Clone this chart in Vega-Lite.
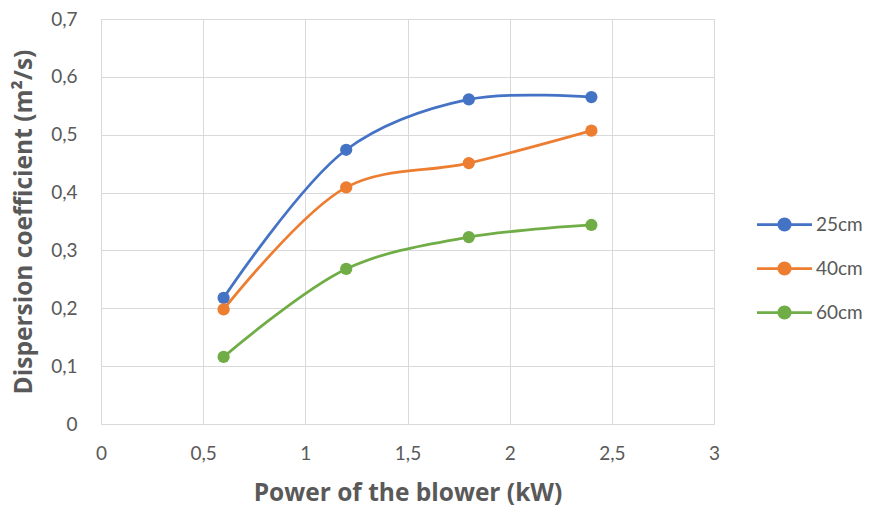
{
  "$schema": "https://vega.github.io/schema/vega-lite/v6.json",
  "autosize": {"type": "none"},
  "padding": {"left": 101, "top": 19, "right": 156, "bottom": 91},
  "width": 613,
  "height": 405,
  "background": "white",
  "config": {
    "locale": {"number": {"decimal": ",", "thousands": ".", "grouping": [3], "currency": ["", " €"]}},
    "font": "Lato",
    "view": {"stroke": "#d9d9d9", "strokeWidth": 1},
    "axis": {
      "grid": true,
      "gridColor": "#d9d9d9",
      "gridWidth": 1,
      "domain": false,
      "ticks": false,
      "tickSize": 0,
      "labelFlush": false,
      "labelFont": "Lato",
      "labelFontSize": 19,
      "labelColor": "#595959",
      "titleFont": "Open Sans",
      "titleFontSize": 24.5,
      "titleFontWeight": "bold",
      "titleColor": "#595959"
    }
  },
  "data": {
    "values": [
      {"series": "25cm", "power": 0.6, "coef": 0.218},
      {"series": "25cm", "power": 1.2, "coef": 0.474},
      {"series": "25cm", "power": 1.8, "coef": 0.561},
      {"series": "25cm", "power": 2.4, "coef": 0.565},
      {"series": "40cm", "power": 0.6, "coef": 0.198},
      {"series": "40cm", "power": 1.2, "coef": 0.409},
      {"series": "40cm", "power": 1.8, "coef": 0.451},
      {"series": "40cm", "power": 2.4, "coef": 0.507},
      {"series": "60cm", "power": 0.6, "coef": 0.116},
      {"series": "60cm", "power": 1.2, "coef": 0.268},
      {"series": "60cm", "power": 1.8, "coef": 0.323},
      {"series": "60cm", "power": 2.4, "coef": 0.344}
    ]
  },
  "mark": {
    "type": "line",
    "interpolate": "catmull-rom",
    "strokeWidth": 2.75,
    "point": {"filled": true, "size": 150, "opacity": 1}
  },
  "encoding": {
    "x": {
      "field": "power",
      "type": "quantitative",
      "scale": {"domain": [0, 3], "nice": false},
      "axis": {"values": [0, 0.5, 1, 1.5, 2, 2.5, 3], "format": "~g", "labelPadding": 20, "title": "Power of the blower (kW)", "titlePadding": 18}
    },
    "y": {
      "field": "coef",
      "type": "quantitative",
      "scale": {"domain": [0, 0.7], "nice": false},
      "axis": {"values": [0, 0.1, 0.2, 0.3, 0.4, 0.5, 0.6, 0.7], "format": "~g", "labelPadding": 24, "title": "Dispersion coefficient (m²/s)", "titlePadding": 14}
    },
    "color": {
      "field": "series",
      "type": "nominal",
      "scale": {"domain": ["25cm", "40cm", "60cm"], "range": ["#4472C4", "#ED7D31", "#70AD47"]},
      "legend": {
        "title": null,
        "orient": "none",
        "legendX": 671,
        "legendY": 193,
        "symbolType": "M-2.5,0L2.5,0M0.52,0A0.52,0.52,0,1,1,-0.52,0A0.52,0.52,0,1,1,0.52,0Z",
        "symbolSize": 484,
        "symbolStrokeWidth": 2.75,
        "labelOffset": 19,
        "labelFont": "Lato",
        "labelFontSize": 19,
        "labelColor": "#595959",
        "rowPadding": 20,
        "encode": {
          "symbols": {
            "update": {
              "fill": {"scale": "color", "field": "value"},
              "stroke": {"scale": "color", "field": "value"},
              "opacity": {"value": 1}
            }
          }
        }
      }
    }
  }
}
